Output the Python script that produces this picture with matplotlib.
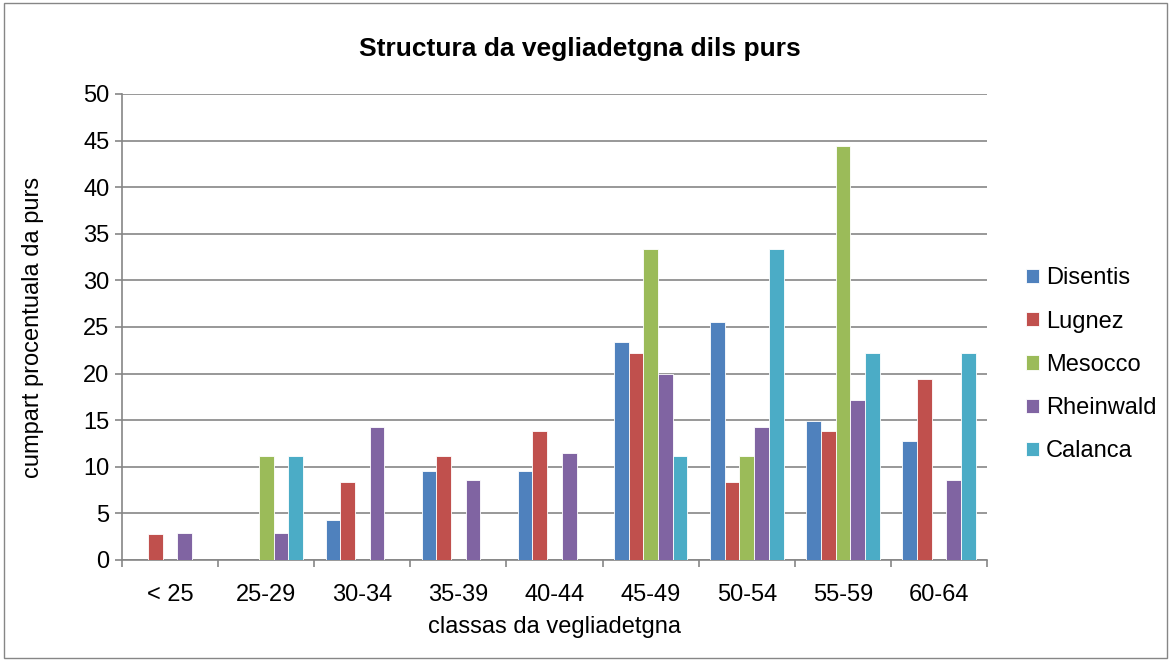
import numpy as np
import matplotlib.pyplot as plt
from matplotlib.patches import Rectangle

plt.rcParams['font.family'] = ['Liberation Sans', 'DejaVu Sans']

# Data
categories = ['< 25', '25-29', '30-34', '35-39', '40-44', '45-49', '50-54', '55-59', '60-64']
series_names = ['Disentis', 'Lugnez', 'Mesocco', 'Rheinwald', 'Calanca']
disentis = [0, 0, 4.26, 9.57, 9.57, 23.40, 25.53, 14.89, 12.77]
lugnez = [2.78, 0, 8.33, 11.11, 13.89, 22.22, 8.33, 13.89, 19.44]
mesocco = [0, 11.11, 0, 0, 0, 33.33, 11.11, 44.44, 0]
rheinwald = [2.86, 2.86, 14.29, 8.57, 11.43, 20.00, 14.29, 17.14, 8.57]
calanca = [0, 11.11, 0, 0, 0, 11.11, 33.33, 22.22, 22.22]
colors = ['#4F81BD', '#C0504D', '#9BBB59', '#8064A2', '#4BACC6']

all_series = [disentis, lugnez, mesocco, rheinwald, calanca]
fs = 17

fig = plt.figure(figsize=(11.71, 6.61), dpi=100)
ax = fig.add_axes([0.1042, 0.1528, 0.7387, 0.705])

x = np.arange(len(categories))
w = 0.153
for i, (vals, name, c) in enumerate(zip(all_series, series_names, colors)):
    ax.bar(x + (i - 2) * w, vals, w, color=c, label=name,
           edgecolor='white', linewidth=0.6, zorder=3)

ax.set_xlim(-0.5, len(categories) - 0.5)
ax.set_ylim(0, 50)
ax.set_yticks(range(0, 51, 5))
ax.set_xticks(x)
ax.set_xticklabels(categories)
ax.set_xticks(np.arange(-0.5, len(categories)), minor=True)
ax.tick_params(axis='x', which='major', length=0, labelsize=fs, pad=17)
ax.tick_params(axis='x', which='minor', length=5, color='#868686', width=1.2)
ax.tick_params(axis='y', length=5, color='#868686', width=1.2, labelsize=fs, pad=4)
ax.grid(axis='y', color='#868686', linewidth=1.2, zorder=0)
for s in ['top', 'right']:
    ax.spines[s].set_visible(False)
for s in ['left', 'bottom']:
    ax.spines[s].set_color('#868686')
    ax.spines[s].set_linewidth(1.2)

ax.set_xlabel('classas da vegliadetgna', fontsize=fs)
ax.xaxis.set_label_coords(0.5, -0.144)
ax.xaxis.label.set_va('center')
ax.set_ylabel('cumpart procentuala da purs', fontsize=fs)
ax.yaxis.set_label_coords(-0.103, 0.5)
ax.yaxis.label.set_va('center')
fig.text(0.495, 0.926, 'Structura da vegliadetgna dils purs', ha='center', va='center',
         fontsize=19, fontweight='bold')

fig.legend(loc='center left', bbox_to_anchor=(0.876, 0.448), frameon=False,
           fontsize=fs, handlelength=0.55, handleheight=0.55, labelspacing=0.9,
           handletextpad=0.3, borderpad=0, borderaxespad=0)

fig.patches.append(Rectangle((0.003, 0.005), 0.994, 0.99, transform=fig.transFigure,
                             fill=False, edgecolor='#868686', linewidth=1))

fig.savefig('out.png', dpi=100)
